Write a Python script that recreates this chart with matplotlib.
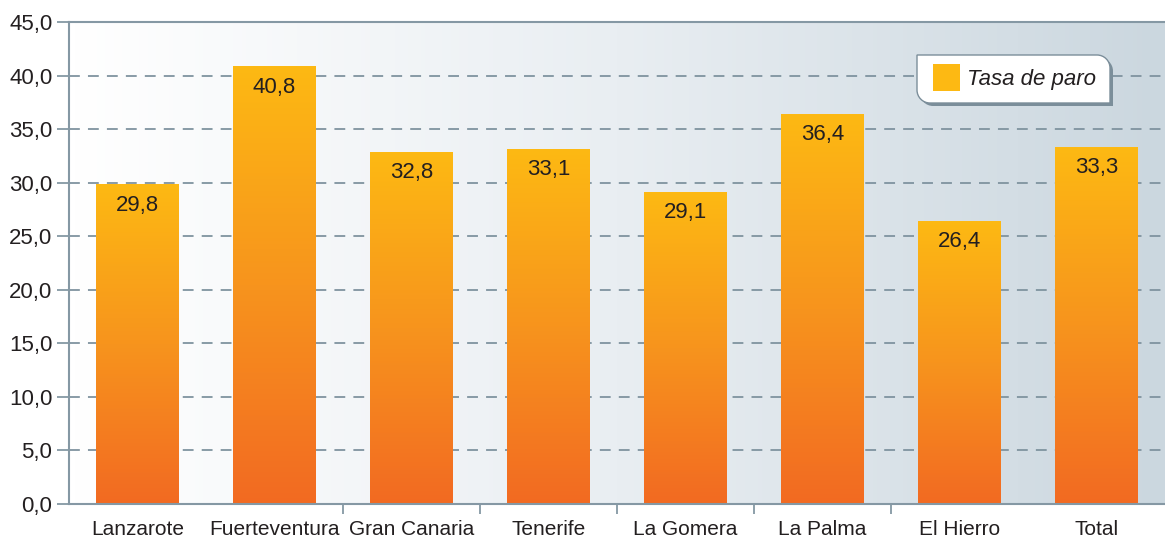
import numpy as np
import matplotlib
matplotlib.use('Agg')
import matplotlib.pyplot as plt
from matplotlib.colors import LinearSegmentedColormap
from matplotlib.path import Path
from matplotlib.patches import PathPatch, Rectangle
from matplotlib.transforms import IdentityTransform

plt.rcParams['font.family'] = ['Liberation Sans', 'DejaVu Sans']

categories = ['Lanzarote', 'Fuerteventura', 'Gran Canaria', 'Tenerife',
              'La Gomera', 'La Palma', 'El Hierro', 'Total']
tasa_paro = [29.8, 40.8, 32.8, 33.1, 29.1, 36.4, 26.4, 33.3]
yticks = np.arange(0, 50, 5)
legend_label = 'Tasa de paro'

text_color = '#231f20'
grid_color = '#7f939f'
bar_cmap = LinearSegmentedColormap.from_list('bar', ['#f26a22', '#f7941d', '#fdb913'])
bg_cmap = LinearSegmentedColormap.from_list('bg', ['#ffffff', '#e9eef2', '#cbd7df'])

W, H = 1165, 541
fig = plt.figure(figsize=(W / 100, H / 100), dpi=100)
ax = fig.add_axes([69 / W, 37 / H, 1 - 69 / W, (504 - 22) / H])

n = len(categories)
x = np.arange(n)

# background gradient, left to right
ax.imshow(np.linspace(0, 1, 256).reshape(1, -1), cmap=bg_cmap, aspect='auto',
          extent=[-0.5, n - 0.5, 0, 45], zorder=0, interpolation='bicubic')

# dashed gridlines
for t in yticks[1:-1]:
    ax.axhline(t, color=grid_color, lw=1.3, ls=(0, (6, 4.5)), zorder=1)

# bars with vertical gradient
width = 0.6
grad = np.linspace(0, 1, 256).reshape(-1, 1)
for xi, v in zip(x, tasa_paro):
    ax.imshow(grad, cmap=bar_cmap, aspect='auto', origin='lower',
              extent=[xi - width / 2, xi + width / 2, 0, v], zorder=2)
    ax.annotate(f'{v:.1f}'.replace('.', ','), (xi, v), xytext=(0, -7),
                textcoords='offset points', ha='center', va='top',
                fontsize=16, color=text_color, zorder=3)
ax.set_xlim(-0.5, n - 0.5)
ax.set_ylim(0, 45)

# axes styling
for s in ['left', 'top', 'bottom']:
    ax.spines[s].set_color('#8598a4')
    ax.spines[s].set_linewidth(1.5)
ax.spines['right'].set_visible(False)

ax.set_yticks(yticks)
ax.set_yticklabels([f'{t:.1f}'.replace('.', ',') for t in yticks])
ax.tick_params(axis='y', length=9, width=1.3, color='#8598a4', pad=3,
               labelsize=16, labelcolor=text_color)

# x ticks only between inner categories, labels drawn as text
ax.set_xticks(x[1:-2] + 0.5)
ax.set_xticklabels([])
ax.tick_params(axis='x', length=7, width=1.3, color='#8598a4')
for xi, c in zip(x, categories):
    ax.text(xi, -1.5, c, ha='center', va='top', fontsize=15, color=text_color)

# legend box: square top-left / bottom-right, rounded top-right / bottom-left
def legend_path(x0, y0, x1, y1, r):
    k = 0.5523 * r
    verts = [(x0, y1), (x1 - r, y1), (x1 - r + k, y1), (x1, y1 - r + k), (x1, y1 - r),
             (x1, y0), (x0 + r, y0), (x0 + r - k, y0), (x0, y0 + r - k), (x0, y0 + r),
             (x0, y1)]
    codes = [Path.MOVETO, Path.LINETO, Path.CURVE4, Path.CURVE4, Path.CURVE4,
             Path.LINETO, Path.LINETO, Path.CURVE4, Path.CURVE4, Path.CURVE4,
             Path.CLOSEPOLY]
    return Path(verts, codes)

bx0, by0, bx1, by1 = 917, H - 103, 1110, H - 55
fig.patches.append(PathPatch(legend_path(bx0 + 3, by0 - 3, bx1 + 3, by1 - 3, 13),
                             transform=IdentityTransform(), facecolor='#7b8e9a',
                             edgecolor='none', zorder=5))
fig.patches.append(PathPatch(legend_path(bx0, by0, bx1, by1, 13),
                             transform=IdentityTransform(), facecolor='white',
                             edgecolor='#7b8e9a', lw=1, zorder=6))
fig.patches.append(Rectangle((933, H - 91), 27, 27, transform=IdentityTransform(),
                             facecolor='#fdb913', edgecolor='none', zorder=7))
fig.text(967 / W, (H - 79) / H, legend_label, fontsize=16, style='italic',
         color=text_color, va='center', ha='left', zorder=8)

fig.savefig('out.png', dpi=100)
